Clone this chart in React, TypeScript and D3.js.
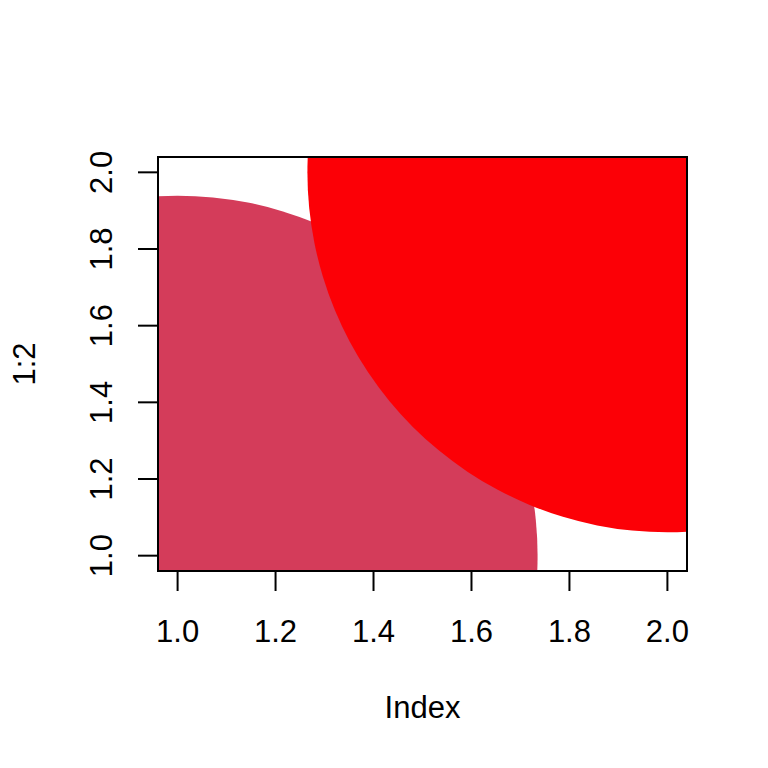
import React from "react";
import * as d3 from "d3";

const xValues = [1, 2];
const yValues = [1, 2];
const pointColors = ["#D43C5A", "#FC0006"];
const xTicks = [1.0, 1.2, 1.4, 1.6, 1.8, 2.0];
const yTicks = [1.0, 1.2, 1.4, 1.6, 1.8, 2.0];
const xLabel = "Index";
const yLabel = "1:2";

export default function App() {
  const W = 768, H = 768;
  const left = 158, right = 687, top = 157, bottom = 571;
  const x = d3.scaleLinear().domain([0.96, 2.04]).range([left, right]);
  const y = d3.scaleLinear().domain([0.96, 2.04]).range([bottom, top]);
  const r = 360;
  const font = "'Liberation Sans', Arial, sans-serif";
  const fs = 31;
  return (
    <svg width={W} height={H} style={{ position: "absolute", left: 0, top: 0, background: "#fff" }}>
      <defs>
        <clipPath id="plotclip">
          <rect x={left} y={top} width={right - left} height={bottom - top} />
        </clipPath>
      </defs>
      <g clipPath="url(#plotclip)">
        {xValues.map((v, i) => (
          <circle key={i} cx={x(v)} cy={y(yValues[i])} r={r} fill={pointColors[i]} />
        ))}
      </g>
      <rect x={left} y={top} width={right - left} height={bottom - top} fill="none" stroke="#000" strokeWidth={2} />
      {/* x axis */}
      <line x1={x(xTicks[0])} x2={x(xTicks[xTicks.length - 1])} y1={bottom} y2={bottom} stroke="#000" strokeWidth={2} />
      {xTicks.map((t) => (
        <g key={"x" + t}>
          <line x1={x(t)} x2={x(t)} y1={bottom} y2={bottom + 20} stroke="#000" strokeWidth={2} />
          <text x={x(t)} y={642} textAnchor="middle" fontFamily={font} fontSize={fs} fill="#000">
            {t.toFixed(1)}
          </text>
        </g>
      ))}
      {/* y axis */}
      {yTicks.map((t) => (
        <g key={"y" + t}>
          <line x1={left} x2={left - 20} y1={y(t)} y2={y(t)} stroke="#000" strokeWidth={2} />
          <text
            transform={`translate(112,${y(t)}) rotate(-90)`}
            textAnchor="middle"
            fontFamily={font}
            fontSize={fs}
            fill="#000"
          >
            {t.toFixed(1)}
          </text>
        </g>
      ))}
      <text x={(left + right) / 2} y={718} textAnchor="middle" fontFamily={font} fontSize={fs} fill="#000">
        {xLabel}
      </text>
      <text
        transform={`translate(35,${(top + bottom) / 2}) rotate(-90)`}
        textAnchor="middle"
        fontFamily={font}
        fontSize={fs}
        fill="#000"
      >
        {yLabel}
      </text>
    </svg>
  );
}
